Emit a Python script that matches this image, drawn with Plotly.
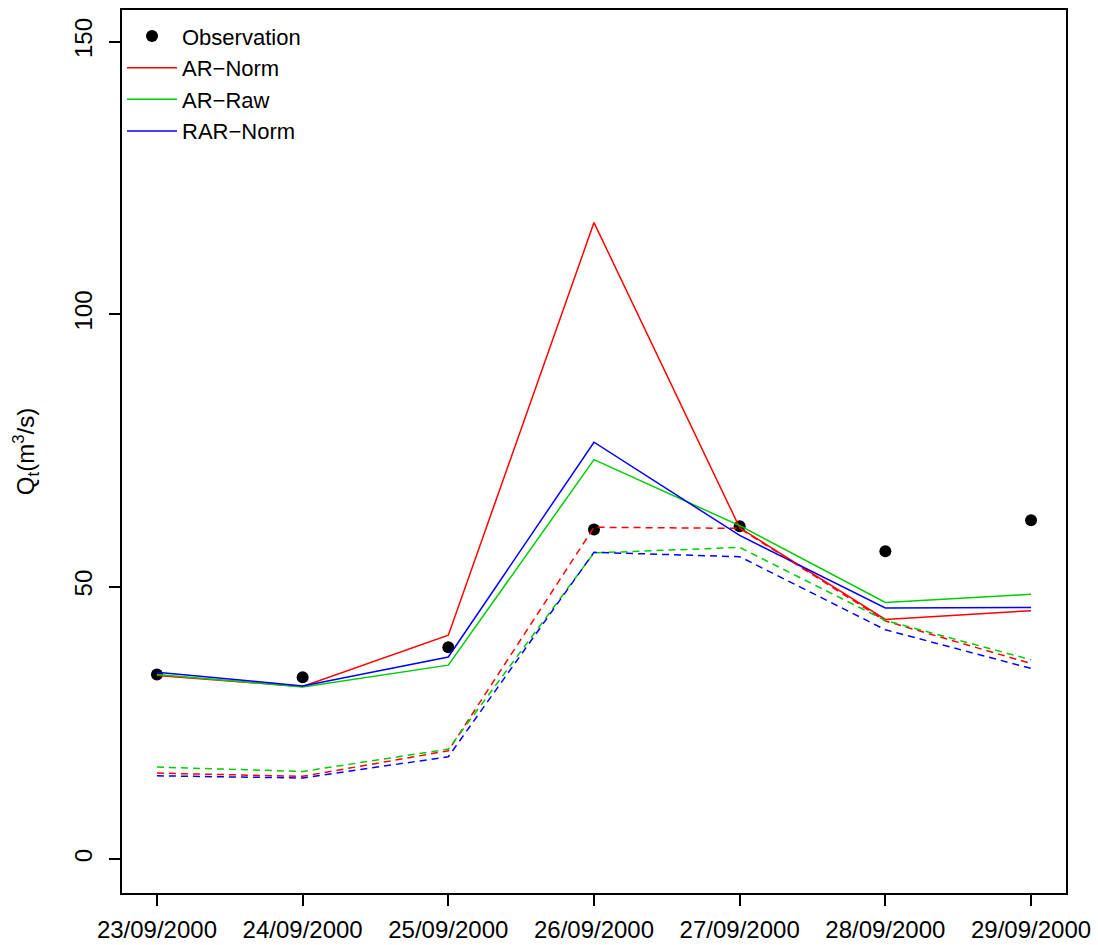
import plotly.graph_objects as go

# Daily discharge, 23-29 September 2000
dates = ["23/09/2000", "24/09/2000", "25/09/2000", "26/09/2000",
         "27/09/2000", "28/09/2000", "29/09/2000"]
x_idx = list(range(len(dates)))

observation = [33.9, 33.4, 38.9, 60.5, 61.1, 56.5, 62.2]

# Forecast series (solid)
ar_norm = [33.7, 31.7, 41.1, 116.8, 60.8, 44.0, 45.6]
ar_raw = [33.9, 31.6, 35.6, 73.3, 61.2, 47.1, 48.6]
rar_norm = [34.3, 31.8, 37.1, 76.5, 59.4, 46.1, 46.2]

# Companion series (dashed)
ar_norm_d = [15.8, 15.2, 19.9, 60.9, 60.7, 43.7, 35.9]
ar_raw_d = [16.9, 16.1, 20.2, 56.2, 57.2, 43.8, 36.6]
rar_norm_d = [15.3, 14.9, 18.8, 56.3, 55.5, 42.1, 35.0]

y_ticks = [0, 50, 100, 150]

RED = "#FF0000"
GREEN = "#00CD00"
BLUE = "#0000FF"
FONT = "Liberation Sans, Arial, Helvetica, sans-serif"
FS = 24

fig = go.Figure()

fig.add_trace(go.Scatter(
    x=x_idx, y=observation, mode="markers", name="Observation",
    marker=dict(color="black", size=12, line=dict(width=0)),
))

for name, vals, col in [("AR\u2212Norm", ar_norm, RED),
                        ("AR\u2212Raw", ar_raw, GREEN),
                        ("RAR\u2212Norm", rar_norm, BLUE)]:
    fig.add_trace(go.Scatter(
        x=x_idx, y=vals, mode="lines", name=name,
        line=dict(color=col, width=1.5),
    ))

for vals, col in [(ar_norm_d, RED), (ar_raw_d, GREEN), (rar_norm_d, BLUE)]:
    fig.add_trace(go.Scatter(
        x=x_idx, y=vals, mode="lines", showlegend=False,
        line=dict(color=col, width=1.5, dash="7px,5px"),
    ))

fig.update_layout(
    width=1098, height=945,
    margin=dict(l=122, r=32, t=10, b=52),
    paper_bgcolor="white", plot_bgcolor="white",
    font=dict(family=FONT, size=FS, color="black"),
    showlegend=True,
    legend=dict(
        x=0.0, y=0.994, xanchor="left", yanchor="top",
        bgcolor="rgba(0,0,0,0)", borderwidth=0,
        font=dict(family=FONT, size=22),
        tracegroupgap=0, itemwidth=50,
    ),
)

fig.update_xaxes(
    range=[-0.24, 6.24], automargin=False,
    tickmode="array", tickvals=x_idx, ticktext=dates,
    showgrid=False, zeroline=False,
    showline=True, linecolor="black", linewidth=1.5, mirror=True,
    ticks="outside", ticklen=11, tickwidth=1.5, tickcolor="black",
    ticklabelstandoff=3,
    tickfont=dict(family=FONT, size=FS),
)

fig.update_yaxes(
    range=[-6.2, 155.8], automargin=False,
    tickmode="array", tickvals=y_ticks,
    ticktext=[str(v) for v in y_ticks],
    tickangle=-90,
    showgrid=False, zeroline=False,
    showline=True, linecolor="black", linewidth=1.5, mirror=True,
    ticks="outside", ticklen=11, tickwidth=1.5, tickcolor="black",
    ticklabelstandoff=8,
    tickfont=dict(family=FONT, size=FS),
    title=dict(text="Q<sub>t</sub>(m<sup>3</sup>/s)",
               font=dict(family=FONT, size=FS), standoff=28),
)

fig.write_html("out.html")
